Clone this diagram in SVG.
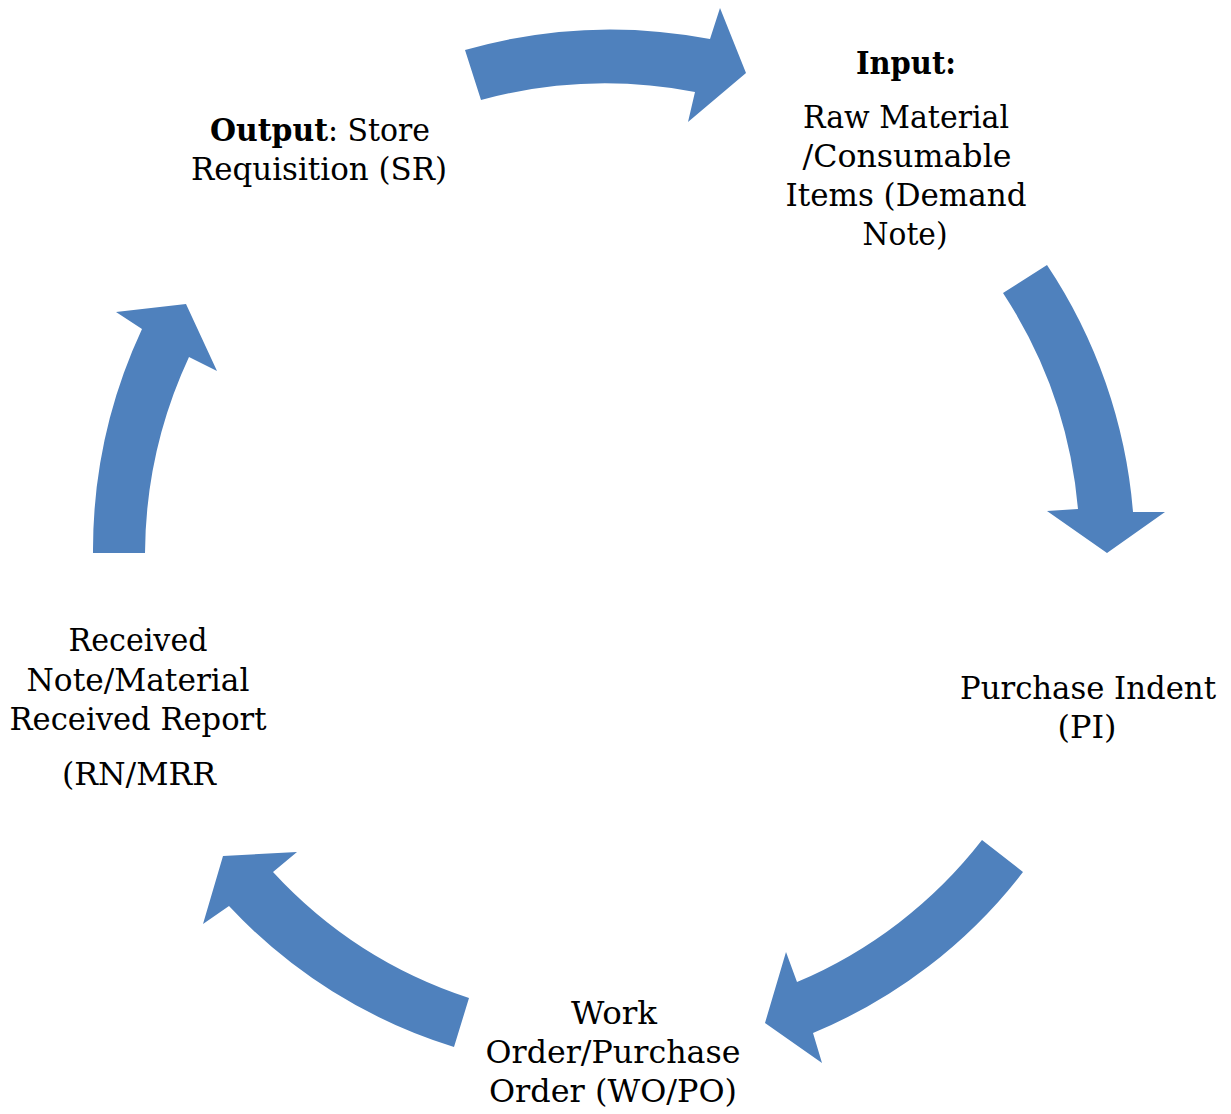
<svg xmlns="http://www.w3.org/2000/svg" width="1231" height="1114" viewBox="0 0 1231 1114">
<style>
.arrow{fill:#4F81BD;stroke:none}
.t{font-family:"DejaVu Serif","Liberation Serif",serif;font-size:31px;fill:#000;text-anchor:middle}
.b{font-weight:bold}
</style>
<rect width="1231" height="1114" fill="#fff"/>
<g id="connectors">
<path id="arrow-top" class="arrow" d="M465,50 A530,530 0 0 1 710,39 L720,8 L746,73 L688,122 L695,92 A477,477 0 0 0 481,100 Z"/>
<path id="arrow-right" class="arrow" d="M1003,293 L1047,265 A521,521 0 0 1 1133,512 L1165,512 L1107,553 L1047,511 L1078,509 A468,468 0 0 0 1003,293 Z"/>
<path id="arrow-bottom-right" class="arrow" d="M982,840 L1023,872 A513,513 0 0 1 813,1033 L822,1063 L765,1023 L786,952 L797,982 A461,461 0 0 0 982,840 Z"/>
<path id="arrow-bottom-left" class="arrow" d="M469,998 L454,1047 A515,515 0 0 1 229,906 L203,924 L223,856 L297,852 L273,872 A462,462 0 0 0 469,998 Z"/>
<path id="arrow-left" class="arrow" d="M145,553 L93,553 A524,524 0 0 1 142,329 L116,312 L186,304 L217,371 L189,357 A471,471 0 0 0 145,553 Z"/>
</g>
<g id="node-input">
<text class="t b" x="906" y="74" textLength="100" lengthAdjust="spacingAndGlyphs">Input:</text>
<text class="t" x="906" y="128" textLength="206" lengthAdjust="spacingAndGlyphs">Raw Material</text>
<text class="t" x="907" y="167" textLength="209" lengthAdjust="spacingAndGlyphs">/Consumable</text>
<text class="t" x="906" y="206" textLength="241" lengthAdjust="spacingAndGlyphs">Items (Demand</text>
<text class="t" x="905" y="245" textLength="85" lengthAdjust="spacingAndGlyphs">Note)</text>
</g>
<g id="node-pi">
<text class="t" x="1088" y="699" textLength="256" lengthAdjust="spacingAndGlyphs">Purchase Indent</text>
<text class="t" x="1087" y="738" textLength="59" lengthAdjust="spacingAndGlyphs">(PI)</text>
</g>
<g id="node-wo">
<text class="t" x="614" y="1024" textLength="86" lengthAdjust="spacingAndGlyphs">Work</text>
<text class="t" x="613" y="1063" textLength="255" lengthAdjust="spacingAndGlyphs">Order/Purchase</text>
<text class="t" x="613" y="1102" textLength="248" lengthAdjust="spacingAndGlyphs">Order (WO/PO)</text>
</g>
<g id="node-rn">
<text class="t" x="138" y="651" textLength="139" lengthAdjust="spacingAndGlyphs">Received</text>
<text class="t" x="138" y="691" textLength="223" lengthAdjust="spacingAndGlyphs">Note/Material</text>
<text class="t" x="138" y="730" textLength="257" lengthAdjust="spacingAndGlyphs">Received Report</text>
<text class="t" x="139" y="785" textLength="154" lengthAdjust="spacingAndGlyphs">(RN/MRR</text>
</g>
<g id="node-sr">
<text class="t" x="320" y="141" textLength="220" lengthAdjust="spacingAndGlyphs"><tspan class="b">Output</tspan>: Store</text>
<text class="t" x="319" y="180" textLength="256" lengthAdjust="spacingAndGlyphs">Requisition (SR)</text>
</g>
</svg>
